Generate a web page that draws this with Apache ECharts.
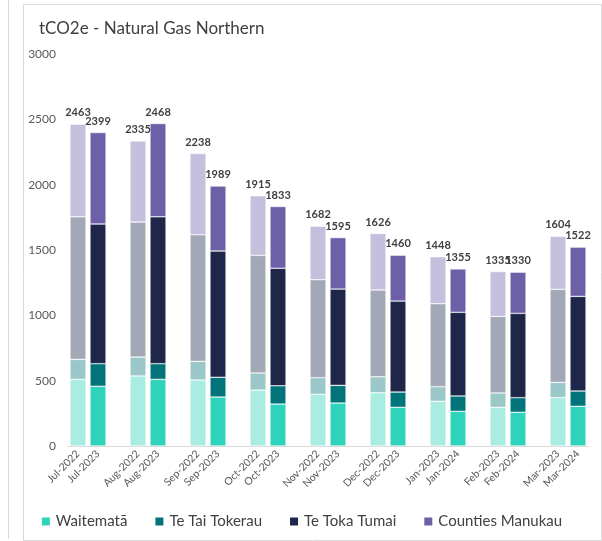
<!DOCTYPE html>
<html>
<head>
<meta charset="utf-8">
<script src="https://cdn.jsdelivr.net/npm/echarts@6/dist/echarts.min.js"></script>
<style>
  html, body { margin: 0; padding: 0; background: #fff; }
  #chart { width: 602px; height: 541px; }
</style>
</head>
<body>
<div id="chart"></div>
<script>
// months, prior year then current year
const prevLabels = ['Jul-2022', 'Aug-2022', 'Sep-2022', 'Oct-2022', 'Nov-2022', 'Dec-2022', 'Jan-2023', 'Feb-2023', 'Mar-2023']
const currLabels = ['Jul-2023', 'Aug-2023', 'Sep-2023', 'Oct-2023', 'Nov-2023', 'Dec-2023', 'Jan-2024', 'Feb-2024', 'Mar-2024']

// values (tCO2e)
const waitemataPrev = [510, 536, 505, 428, 395, 408, 342, 296, 370]
const waitemataCurr = [457, 510, 375, 321, 329, 296, 265, 258, 304]
const taiTokerauPrev = [153, 145, 143, 131, 128, 122, 112, 110, 117]
const taiTokerauCurr = [173, 120, 151, 140, 135, 117, 118, 112, 117]
const tokaTumaiPrev = [1091, 1033, 969, 900, 750, 664, 635, 586, 712]
const tokaTumaiCurr = [1069, 1124, 966, 899, 737, 696, 640, 645, 724]
const countiesPrev = [709, 621, 621, 456, 409, 432, 359, 343, 405]
const countiesCurr = [700, 714, 497, 473, 394, 351, 332, 315, 377]

const totalsPrev = [2463, 2335, 2238, 1915, 1682, 1626, 1448, 1335, 1604]
const totalsCurr = [2399, 2468, 1989, 1833, 1595, 1460, 1355, 1330, 1522]

const yTicks = [0, 500, 1000, 1500, 2000, 2500, 3000]

// category list with a blank slot between month pairs
const categories = []
const totals = []
prevLabels.forEach((p, i) => {
  categories.push(p, currLabels[i])
  totals.push(totalsPrev[i], totalsCurr[i])
  if (i < prevLabels.length - 1) {
    categories.push('')
    totals.push(null)
  }
})

function buildData(prev, curr, fadedColor) {
  const out = []
  prev.forEach((v, i) => {
    out.push({ value: v, itemStyle: { color: fadedColor } })
    out.push(curr[i])
    if (i < prev.length - 1) out.push('-')
  })
  return out
}

const seriesDefs = [
  { name: 'Waitematā', prev: waitemataPrev, curr: waitemataCurr, color: '#2fd3bb', faded: '#a9ece2' },
  { name: 'Te Tai Tokerau', prev: taiTokerauPrev, curr: taiTokerauCurr, color: '#00747a', faded: '#9cc7c9' },
  { name: 'Te Toka Tumai', prev: tokaTumaiPrev, curr: tokaTumaiCurr, color: '#1e2749', faded: '#a3a8b6' },
  { name: 'Counties Manukau', prev: countiesPrev, curr: countiesCurr, color: '#6e60a8', faded: '#c4bfdd' },
]

const FONT = 'Lato, "Noto Sans", sans-serif'

const myChart = echarts.init(document.getElementById('chart'))

const option = {
  animation: false,
  textStyle: { fontFamily: FONT },
  graphic: [
    {
      type: 'rect',
      shape: { x: 23.5, y: 4.5, width: 578, height: 536 },
      style: { fill: 'none', stroke: '#d9d9d9', lineWidth: 1 },
    },
    {
      type: 'line',
      shape: { x1: 8.5, y1: 0, x2: 8.5, y2: 539 },
      style: { stroke: '#d9d9d9', lineWidth: 1 },
    },
  ],
  title: {
    text: 'tCO2e - Natural Gas Northern',
    left: 39,
    top: 20,
    padding: 0,
    textStyle: { fontFamily: FONT, fontSize: 17, fontWeight: 'normal', color: '#404040' },
  },
  legend: {
    bottom: 7,
    left: 'center',
    icon: 'rect',
    itemWidth: 10,
    itemHeight: 10,
    itemGap: 26,
    textStyle: { fontFamily: FONT, fontSize: 15, color: '#404040' },
    data: seriesDefs.map((s) => s.name),
  },
  grid: { left: 68, right: 14, top: 54, bottom: 95 },
  xAxis: {
    type: 'category',
    data: categories,
    axisLine: { lineStyle: { color: '#d9d9d9' } },
    axisTick: { interval: 0, length: 5, lineStyle: { color: '#d9d9d9' } },
    axisLabel: { interval: 0, rotate: 45, fontSize: 10.5, color: '#595959', margin: 6 },
  },
  yAxis: {
    type: 'value',
    min: yTicks[0],
    max: yTicks[yTicks.length - 1],
    interval: 500,
    splitLine: { show: false },
    axisLine: { show: false },
    axisTick: { show: false },
    axisLabel: { fontSize: 12, color: '#595959', margin: 12, formatter: (v) => String(v) },
  },
  series: seriesDefs.map((s, idx) => ({
    name: s.name,
    type: 'bar',
    stack: 'total',
    barCategoryGap: '20%',
    color: s.color,
    itemStyle: { borderColor: '#fff', borderWidth: 0.5 },
    data: buildData(s.prev, s.curr, s.faded),
    label: idx === seriesDefs.length - 1 ? {
      show: true,
      position: 'top',
      distance: 6,
      fontSize: 11,
      fontWeight: 'bold',
      color: '#404040',
      formatter: (p) => (totals[p.dataIndex] == null ? '' : String(totals[p.dataIndex])),
    } : { show: false },
  })),
}

myChart.setOption(option)
</script>
</body>
</html>
